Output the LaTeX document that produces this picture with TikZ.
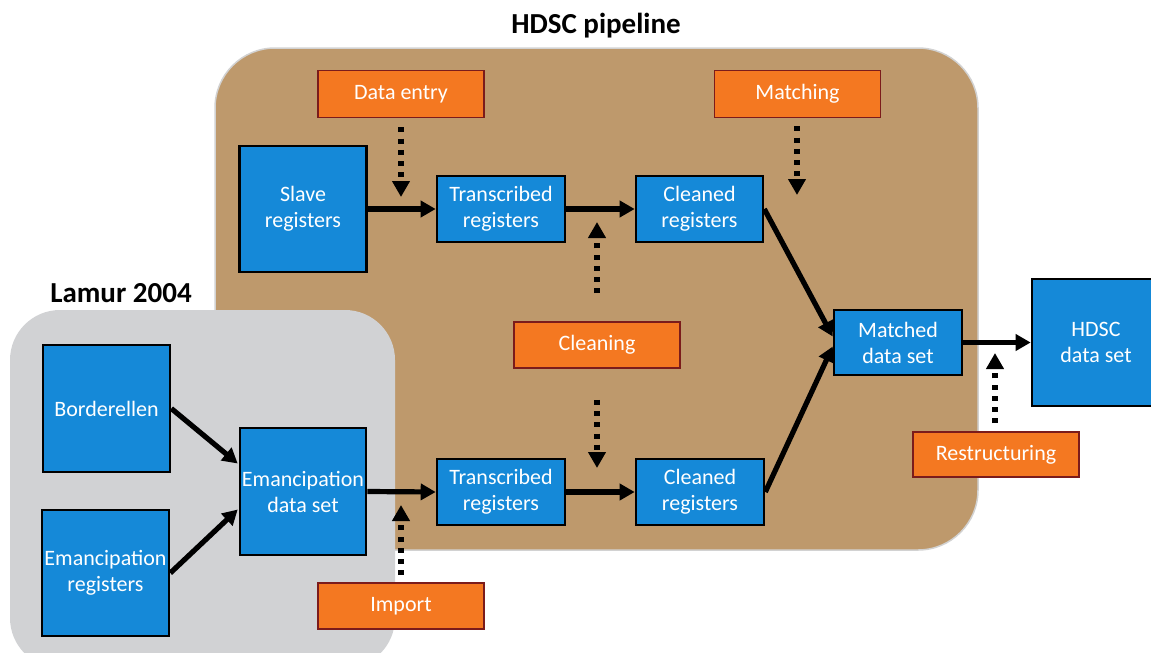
\documentclass[tikz,border=0pt]{standalone}
\usepackage{fontspec}
\setmainfont{Carlito}
\usetikzlibrary{arrows.meta,calc}

\definecolor{pipetan}{HTML}{BE996C}
\definecolor{lamurgray}{HTML}{D1D2D4}
\definecolor{boxblue}{HTML}{1589D8}
\definecolor{steporange}{HTML}{F47821}
\definecolor{stepedge}{HTML}{7B1B1B}

\tikzset{
  panel/.style={rounded corners=#1},
  databox/.style={draw=black, line width=2.6pt, fill=boxblue, text=white,
    align=center, inner sep=0pt, font=\fontsize{22}{26}\selectfont},
  taskbox/.style={draw=stepedge, line width=1.8pt, fill=steporange, text=white,
    align=center, inner sep=0pt, minimum width=166pt, font=\fontsize{22}{26}\selectfont},
  title/.style={font=\fontsize{29}{34}\selectfont\bfseries},
  flow/.style={line width=5.2pt, -{Triangle[length=15pt,width=16pt]}},
  task/.style={line width=5.2pt, dash pattern=on 5pt off 6.2pt,
    -{Triangle[length=16pt,width=17pt]}},
}

\begin{document}
\begin{tikzpicture}[x=1pt, y=-1pt]
  \useasboundingbox (0,0) rectangle (1151,653);
  \clip (0,0) rectangle (1151,653);

  % background panels
  \fill[pipetan, draw=gray!35, line width=1.5pt, panel=60] (215,48) rectangle (978,550);
  \fill[lamurgray, panel=50] (10,310) rectangle (395,668);

  % panel titles
  \node[title] (tpipe) at (596,26) {HDSC pipeline};
  \node[title] (tlamur) at (121,293) {Lamur 2004};

  % data sets
  \node[databox, minimum width=127pt, minimum height=126pt] (slave)   at (303,209)   {Slave\\registers};
  \node[databox, minimum width=128pt, minimum height=66pt]  (trans1)  at (501,209)   {Transcribed\\registers};
  \node[databox, minimum width=127pt, minimum height=66pt]  (clean1)  at (699.5,209) {Cleaned\\registers};
  \node[databox, minimum width=128pt, minimum height=65pt]  (matched) at (898,342.5) {Matched\\data set};
  \node[databox, minimum width=128pt, minimum height=127pt] (hdsc)    at (1096,342.5) {HDSC\\data set};
  \node[databox, minimum width=127pt, minimum height=127pt] (border)  at (106.5,408.5) {Borderellen};
  \node[databox, minimum width=127pt, minimum height=126pt] (emreg)   at (105.5,573) {Emancipation\\registers};
  \node[databox, minimum width=126pt, minimum height=127pt] (eds)     at (303,491.5) {Emancipation\\data set};
  \node[databox, minimum width=128pt, minimum height=66pt]  (trans2)  at (501,492)   {Transcribed\\registers};
  \node[databox, minimum width=128pt, minimum height=66pt]  (clean2)  at (700,492)   {Cleaned\\registers};

  % processing steps
  \node[taskbox, minimum height=47pt] (entry)    at (401,94)    {Data entry};
  \node[taskbox, minimum height=47pt] (matching) at (797.5,94)  {Matching};
  \node[taskbox, minimum height=46pt] (cleaning) at (597,345)   {Cleaning};
  \node[taskbox, minimum height=45pt] (restruct) at (996,454.5) {Restructuring};
  \node[taskbox, minimum height=46pt] (import)   at (401,606)   {Import};

  % data flow
  \draw[flow] (slave.east) -- (trans1.west);
  \draw[flow] (trans1.east) -- (clean1.west);
  \draw[flow] (clean1.east) -- ($(matched.west)+(0,-6)$);
  \draw[flow] (clean2.east) -- ($(matched.west)+(0,4)$);
  \draw[flow] (matched.east) -- (hdsc.west);
  \draw[flow] (border.east) -- ($(eds.west)+(-1,-28)$);
  \draw[flow] (emreg.east) -- ($(eds.west)+(-1,18)$);
  \draw[flow] (eds.east) -- (trans2.west);
  \draw[flow] (trans2.east) -- (clean2.west);

  % where each step acts
  \coordinate (entryhit)   at (401,197);
  \coordinate (matchhit)   at (797,195);
  \coordinate (cleanhitA)  at (597,222);
  \coordinate (cleanhitB)  at (597,468);
  \coordinate (importhit)  at (401,505);
  \coordinate (restrhit)   at (995,353);

  \draw[task] ($(entry.south)+(0,9)$) -- (entryhit);
  \draw[task] ($(matching.south)+(-0.5,8)$) -- (matchhit);
  \draw[task] ($(cleaning.north)+(0,-28)$) -- (cleanhitA);
  \draw[task] ($(cleaning.south)+(0,31)$) -- (cleanhitB);
  \draw[task] ($(import.north)+(0,-7)$) -- (importhit);
  \draw[task] ($(restruct.north)+(-1,-8)$) -- (restrhit);
\end{tikzpicture}
\end{document}
